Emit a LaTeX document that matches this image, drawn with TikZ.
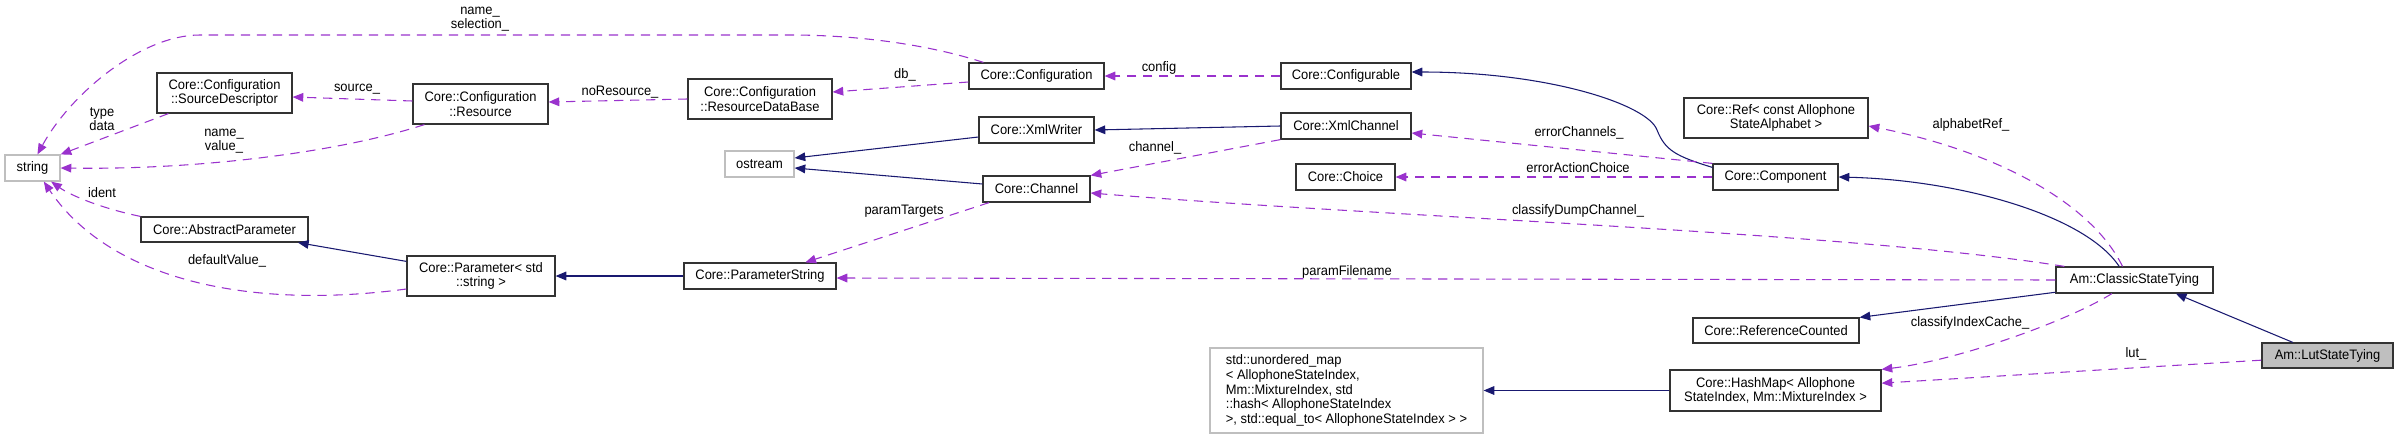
\documentclass[tikz,border=0pt]{standalone}
\usepackage{fontspec}
\setmainfont{Liberation Sans}[FakeStretch=0.94]
\usetikzlibrary{arrows.meta,positioning}
\definecolor{navy}{HTML}{191970}
\definecolor{orchid}{HTML}{9A32CD}
\definecolor{greyline}{HTML}{BFBFBF}
\tikzset{
  cls/.style={rectangle,draw=black!80,line width=0.9pt,fill=white,align=center,inner sep=1pt,font=\fontsize{10.3}{10.9}\selectfont},
  extcls/.style={cls,draw=greyline},
  lbl/.style={align=center,inner sep=0pt,font=\fontsize{10.3}{10.9}\selectfont},
  inherit/.style={-{Triangle[length=8pt,width=6.5pt]},navy,line width=0.8pt},
  usage/.style={-{Triangle[length=8pt,width=6.5pt]},orchid,line width=0.8pt,dash pattern=on 7pt off 5pt}
}

\begin{document}
\begin{tikzpicture}[x=0.75pt,y=-0.75pt]
    \useasboundingbox (0,0) rectangle (2399,439);

    \node[extcls,minimum width=41.25pt,minimum height=19.5pt] (str) at (32.5,168) {string};
    \node[cls,minimum width=101.25pt,minimum height=30pt] (srcdesc) at (224.5,93) {Core::Configuration\\::SourceDescriptor};
    \node[cls,minimum width=101.25pt,minimum height=30pt] (resource) at (480.5,104) {Core::Configuration\\::Resource};
    \node[cls,minimum width=108pt,minimum height=30pt] (resdb) at (760,99) {Core::Configuration\\::ResourceDataBase};
    \node[extcls,minimum width=51.75pt,minimum height=19.5pt] (ostream) at (759.5,164) {ostream};
    \node[cls,minimum width=125.25pt,minimum height=18.75pt] (absparam) at (224.5,229.5) {Core::AbstractParameter};
    \node[cls,minimum width=111pt,minimum height=30pt] (param) at (481,276) {Core::Parameter< std\\::string >};
    \node[cls,minimum width=114pt,minimum height=19.5pt] (paramstr) at (760,276) {Core::ParameterString};
    \node[cls,minimum width=101.25pt,minimum height=19.5pt] (config) at (1036.5,76) {Core::Configuration};
    \node[cls,minimum width=86.25pt,minimum height=19.5pt] (xmlwriter) at (1036.5,130) {Core::XmlWriter};
    \node[cls,minimum width=80.25pt,minimum height=19.5pt] (channel) at (1036.5,189) {Core::Channel};
    \node[cls,minimum width=97.5pt,minimum height=19.5pt] (configurable) at (1346,76) {Core::Configurable};
    \node[cls,minimum width=97.5pt,minimum height=19.5pt] (xmlchannel) at (1346,126) {Core::XmlChannel};
    \node[cls,minimum width=74.25pt,minimum height=19.5pt] (choice) at (1345.5,177) {Core::Choice};
    \node[extcls,minimum width=204.75pt,minimum height=63.75pt,align=left] (umap) at (1346.5,390.5) {std::unordered\_map\\< AllophoneStateIndex,\\ Mm::MixtureIndex, std\\::hash< AllophoneStateIndex\\ >, std::equal\_to< AllophoneStateIndex > >};
    \node[cls,minimum width=138pt,minimum height=30pt] (ref) at (1776,118) {Core::Ref< const Allophone\\StateAlphabet >};
    \node[cls,minimum width=93.75pt,minimum height=19.5pt] (component) at (1775.5,177) {Core::Component};
    \node[cls,minimum width=124.5pt,minimum height=18.75pt] (refcount) at (1776,330.5) {Core::ReferenceCounted};
    \node[cls,minimum width=158.25pt,minimum height=30.75pt] (hashmap) at (1775.5,390.5) {Core::HashMap< Allophone\\StateIndex, Mm::MixtureIndex >};
    \node[cls,minimum width=117.75pt,minimum height=19.5pt] (classic) at (2134.5,280) {Am::ClassicStateTying};
    \node[cls,fill=greyline,minimum width=98.25pt,minimum height=18.75pt] (lut) at (2327.5,355.5) {Am::LutStateTying};

    \draw[usage] ([xshift=11.25pt]config.north west) .. controls (930,45) and (860,35) .. (790,35) -- (200,35) .. controls (140,35) and (70,95) .. (str.70);
    \draw[usage] ([xshift=9pt]srcdesc.south west) -- (str.north east);
    \draw[usage] ([yshift=2.25pt]resource.west) -- ([yshift=-3pt]srcdesc.east);
    \draw[usage] ([xshift=9pt]resource.south west) .. controls (340,152) and (200,170) .. (str.east);
    \draw[usage] (resdb.west) -- ([yshift=1.5pt]resource.east);
    \draw[usage] (absparam.north west) .. controls (100,208) and (70,195) .. ([xshift=14pt]str.south);
    \draw[usage] ([yshift=-9.75pt]param.west) .. controls (250,310) and (110,280) .. ([xshift=8.5pt]str.south);
    \draw[inherit] ([yshift=-4.5pt]param.north west) -- ([xshift=-8pt]absparam.south east);
    \draw[inherit] (paramstr.west) -- (param.east);
    \draw[usage] ([yshift=-4.5pt]config.west) -- ([yshift=5.25pt]resdb.east);
    \draw[usage] (configurable.west) -- (config.east);
    \draw[inherit] ([yshift=-5.25pt]xmlwriter.west) -- ([yshift=4.5pt]ostream.east);
    \draw[inherit] ([yshift=3.75pt]channel.west) -- ([yshift=-3pt]ostream.east);
    \draw[inherit] (xmlchannel.west) -- (xmlwriter.east);
    \draw[usage] (xmlchannel.south west) -- (channel.north east);
    \draw[usage] ([xshift=5pt]channel.south west) -- ([xshift=34pt]paramstr.north);
    \draw[inherit] ([yshift=-3pt]component.north west) .. controls (1675,156) and (1665,150) .. (1657,130) .. controls (1648,105) and (1550,72) .. ([yshift=3pt]configurable.east);
    \draw[usage] (component.north west) -- ([yshift=-5.25pt]xmlchannel.east);
    \draw[usage] (component.west) -- (choice.east);
    \draw[usage] ([xshift=6.75pt]classic.north west) .. controls (1850,232) and (1400,218) .. ([yshift=-3pt]channel.east);
    \draw[usage] (classic.west) -- ([yshift=-1.5pt]paramstr.east);
    \draw[inherit] ([yshift=1pt]classic.south west) -- (refcount.north east);
    \draw[usage] ([xshift=-9pt]classic.north) .. controls (2090,200) and (1990,150) .. ([yshift=-6pt]ref.east);
    \draw[inherit] ([xshift=-11.5pt]classic.north) .. controls (2085,215) and (1960,180) .. (component.east);
    \draw[usage] ([xshift=-17pt]classic.south) .. controls (2070,320) and (1960,360) .. (hashmap.north east);
    \draw[inherit] ([xshift=-26pt]lut.north) -- ([xshift=31pt]classic.south);
    \draw[usage] ([yshift=-3.5pt]lut.west) -- ([yshift=5.5pt]hashmap.east);
    \draw[inherit] (hashmap.west) -- (umap.east);

    \node[lbl] (lName) at (480,19) {name\_\\selection\_};
    \node[lbl] (lType) at (102,119) {type\\data};
    \node[lbl] (lSource) at (357,89) {source\_};
    \node[lbl] (lNoRes) at (620,92) {noResource\_};
    \node[lbl] (lValue) at (224,141) {name\_\\value\_};
    \node[lbl] (lIdent) at (102,193) {ident};
    \node[lbl] (lDefault) at (227,261) {defaultValue\_};
    \node[lbl] (lDb) at (905,75) {db\_};
    \node[lbl] (lConfig) at (1159,68) {config};
    \node[lbl] (lChannel) at (1155,148) {channel\_};
    \node[lbl] (lTargets) at (904,211) {paramTargets};
    \node[lbl] (lFilename) at (1347,272) {paramFilename};
    \node[lbl] (lErrChan) at (1579,133) {errorChannels\_};
    \node[lbl] (lErrAct) at (1578,168) {errorActionChoice};
    \node[lbl] (lDump) at (1578,211) {classifyDumpChannel\_};
    \node[lbl] (lAlpha) at (1971,125) {alphabetRef\_};
    \node[lbl] (lCache) at (1970,323) {classifyIndexCache\_};
    \node[lbl] (lLut) at (2136,354) {lut\_};
  \end{tikzpicture}
\end{document}
